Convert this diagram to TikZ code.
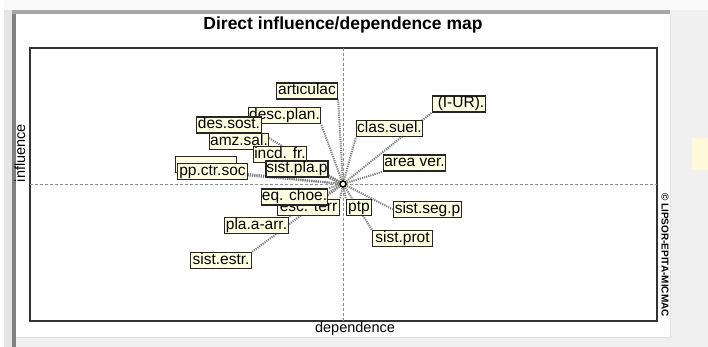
\documentclass[tikz,border=0pt]{standalone}
\usepackage{fontspec}
\setmainfont{Liberation Sans}
\definecolor{lblfill}{HTML}{FFFFE1}
\definecolor{winbg}{HTML}{F0F0F0}
\definecolor{hintyel}{HTML}{FDF9D9}
\pgfdeclarelayer{back}
\pgfdeclarelayer{links}
\pgfsetlayers{back,links,main}
\tikzset{
  lbl/.style={draw=black!85, line width=1.3pt, fill=lblfill,
    font=\fontsize{15.5}{15.5}\selectfont, inner xsep=0.5pt, inner ysep=0.5pt,
    text height=11pt, text depth=3.5pt, minimum height=16pt},
  link/.style={draw=black!50, line width=2pt, dash pattern=on 1.2pt off 1pt},
  axisline/.style={draw=black!45, line width=0.8pt, dash pattern=on 3pt off 2pt},
  centremark/.style={circle, draw=black, line width=1.5pt, fill=lblfill, inner sep=0pt, minimum size=6pt},
}
\begin{document}
\begin{tikzpicture}[x=1pt,y=-1pt]
\useasboundingbox (0,0) rectangle (708,347);
\begin{pgfonlayer}{back}
% window background
\fill[winbg] (0,0) rectangle (708,347);
\fill[white!98!black] (0,0) rectangle (708,10);
\fill[white] (0,0) rectangle (4,347);
\fill[black!10] (4,10) rectangle (12,347);
\fill[black!50] (12,10) rectangle (16,347);
\fill[black!35] (12,10) rectangle (670,14);
\fill[white] (16,14) rectangle (670,337);
\draw[black!12, line width=1pt] (670.5,14) -- (670.5,337.5) -- (16,337.5);
\fill[hintyel] (692,138) rectangle (708,170);
% plot frame
\draw[black!80, line width=1.3pt] (30,48) rectangle (657,321);
% axes
\draw[axisline] (343,48) -- (343,321);
\draw[axisline] (30,184) -- (657,184);
\end{pgfonlayer}
% title and axis labels
\node[font=\bfseries\fontsize{17.5}{17.5}\selectfont, inner sep=0pt] (title) at (343,25) {Direct influence/dependence map};
\node[font=\fontsize{14.5}{14.5}\selectfont, inner sep=0pt, rotate=90] (infl) at (20,153) {influence};
\node[font=\fontsize{14.5}{14.5}\selectfont, inner sep=0pt] (dep) at (355,329) {dependence};
\node[font=\bfseries\fontsize{10}{10}\selectfont, inner sep=0pt, rotate=-90] (copy) at (665,255) {© LIPSOR-EPITA-MICMAC};
% centre
\coordinate (c) at (343,184);
% label nodes
\path
  (206,164.5) node[lbl, minimum width=61pt, minimum height=14pt] (hid) {}
  (212.5,171.5) node[lbl, minimum width=70pt] (ppctr) {pp.ctr.soc}
  (284.5,115.5) node[lbl, minimum width=72pt] (descp) {desc.plan.}
  (229,125) node[lbl, minimum width=65pt] (dess) {des.sost.}
  (239,141.5) node[lbl, minimum width=59pt] (amz) {amz.sal.}
  (280,154.5) node[lbl, minimum width=53pt] (incd) {incd. fr.}
  (297,169) node[lbl, minimum width=61pt] (sistpla) {sist.pla.p}
  (307,91) node[lbl, minimum width=61pt] (art) {articulac}
  (389.5,128.5) node[lbl, minimum width=66pt] (clas) {clas.suel.}
  (459,104) node[lbl, minimum width=53pt] (iur) {\hspace{4pt}(I-UR).}
  (414.5,163) node[lbl, minimum width=62pt] (area) {area ver.}
  (308.5,207.5) node[lbl, minimum width=62pt] (esc) {esc. terr}
  (294.5,197) node[lbl, minimum width=64pt] (eq) {eq. choe.}
  (359,207.5) node[lbl, minimum width=25pt] (ptp) {ptp}
  (427.5,209.5) node[lbl, minimum width=68pt] (seg) {sist.seg.p}
  (256.5,225.5) node[lbl, minimum width=64pt] (pla) {pla.a-arr.}
  (402.5,238.5) node[lbl, minimum width=60pt] (prot) {sist.prot}
  (221,260.5) node[lbl, minimum width=61pt] (estr) {sist.estr.};
% connectors (under the labels)
\begin{pgfonlayer}{links}
\draw[link] (c) -- (hid.south east);
\draw[link] (c) -- ([yshift=-4pt]ppctr.east);
\draw[link] (c) -- (descp.south east);
\draw[link] (c) -- (dess.south east);
\draw[link] (c) -- (amz.south east);
\draw[link] (c) -- (incd.south east);
\draw[link] (c) -- (sistpla.south east);
\draw[link] (c) -- (art.south east);
\draw[link] (c) -- (clas.south west);
\draw[link] (c) -- (iur.south west);
\draw[link] (c) -- (area.south west);
\draw[link] (c) -- (esc.north east);
\draw[link] (c) -- (eq.north east);
\draw[link] (c) -- (ptp.north west);
\draw[link] (c) -- (seg.west);
\draw[link] (c) -- (pla.north east);
\draw[link] (c) -- (prot.north west);
\draw[link] (c) -- (estr.north east);
\end{pgfonlayer}
\node[centremark] (cm) at (c) {};
\end{tikzpicture}
\end{document}
